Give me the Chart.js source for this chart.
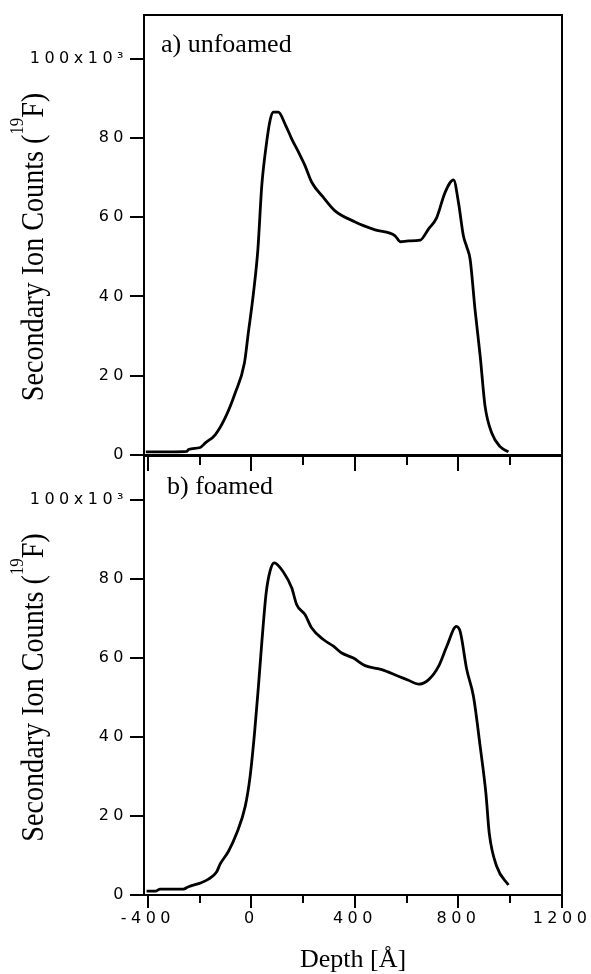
<!DOCTYPE html>
<html>
<head>
<meta charset="utf-8">
<script src="https://cdn.jsdelivr.net/npm/chart.js@4.4.1/dist/chart.umd.min.js"></script>
<style>
  html, body { margin: 0; padding: 0; background: #fff; }
  #wrap { position: relative; width: 591px; height: 974px; }
  .panel { position: absolute; left: 0; width: 591px; }
  #topBox { top: 0; height: 476px; }
  #botBox { top: 456px; height: 518px; }
</style>
</head>
<body>
<div id="wrap">
  <div class="panel" id="topBox"><canvas id="unfoamedChart"></canvas></div>
  <div class="panel" id="botBox"><canvas id="foamedChart"></canvas></div>
</div>
<script>
// 19F depth profiles, counts in units of 10^3, depth in Angstrom
var depthUnfoamed = [-408, -300, -250, -243, -198, -179, -140, -102, -63, -27, -12, 8, 25, 40, 57, 72, 85, 104,
  130, 156, 182, 207, 233, 278, 323, 401, 478, 555, 575, 607, 652, 684, 716, 748, 781, 800, 819, 832, 845,
  864, 884, 903, 929, 961, 993];
var countsUnfoamed = [0.8, 0.8, 0.9, 1.4, 1.9, 3.0, 5.1, 9.3, 15.6, 23.2, 30.8, 40.9, 51.9, 67.9, 78, 84.4, 86.5, 86.5,
  83.5, 79.7, 76.4, 73, 68.8, 65, 61.6, 58.8, 56.8, 55.3, 53.8, 54, 54.2, 57, 59.9, 66.2, 69.4, 63.7, 55.3, 52.5, 49.4,
  36.7, 24.9, 12.2, 5.5, 2.1, 0.8];

var depthFoamed = [-405, -370, -353, -263, -243, -198, -166, -134, -121, -89, -57, -24, -5, 12, 27, 40, 57, 72, 88,
  124, 156, 175, 207, 233, 278, 317, 349, 394, 439, 504, 568, 607, 645, 684, 723, 755, 792, 807, 832, 858,
  884, 906, 919, 948, 993];
var countsFoamed = [1.0, 1.0, 1.5, 1.5, 2.1, 3.0, 4.0, 5.9, 7.8, 11, 15.6, 22.4, 30, 40.9, 52.7, 63.7, 76.4, 81.9, 84,
  81.6, 77.6, 73.4, 70.9, 67.5, 64.6, 62.9, 61.2, 59.9, 58, 57, 55.3, 54.3, 53.3, 54.4, 57.8, 62.9, 67.9, 66.5, 57, 50.2,
  37.5, 25.7, 15.6, 7.2, 2.5];

var depthTicks = [-400, 0, 400, 800, 1200];
var depthMinorTicks = [-400, -200, 0, 200, 400, 600, 800, 1000, 1200];
var countTicks = [0, 20, 40, 60, 80, 100];
var depthMin = -415, depthMax = 1200, countMax = 111;

var tickFont = { family: 'DejaVu Sans', size: 16 };

// frame, panel label and axis titles (drawn without the tick letter spacing)
var panelDecor = {
  id: 'panelDecor',
  beforeDraw: function (chart) {
    chart.ctx.letterSpacing = '4.5px';
  },
  afterDraw: function (chart, args, o) {
    var ctx = chart.ctx, a = chart.chartArea;
    ctx.save();
    ctx.letterSpacing = '0px';
    ctx.strokeStyle = '#000';
    ctx.lineWidth = 2;
    ctx.beginPath();
    if (o.topLine) {
      ctx.moveTo(a.left - 1, a.top);
      ctx.lineTo(a.right + 1, a.top);
    }
    ctx.moveTo(a.right, a.top);
    ctx.lineTo(a.right, a.bottom);
    ctx.stroke();

    ctx.fillStyle = '#000';
    ctx.textBaseline = 'alphabetic';
    ctx.textAlign = 'left';
    ctx.font = '26px "Liberation Serif"';
    ctx.fillText(o.label, o.labelX, o.labelY);

    if (o.xTitle) {
      ctx.textAlign = 'center';
      ctx.fillText(o.xTitle, (a.left + a.right) / 2, o.xTitleY);
    }

    // y title with superscript isotope number
    var cy = (a.top + a.bottom) / 2 + 12;
    ctx.save();
    ctx.translate(43, cy);
    ctx.rotate(-Math.PI / 2);
    ctx.scale(0.88, 1);
    ctx.textAlign = 'left';
    var p1 = 'Secondary Ion Counts (', p2 = '19', p3 = 'F)';
    ctx.font = '32px "Liberation Serif"';
    var w1 = ctx.measureText(p1).width, w3 = ctx.measureText(p3).width;
    ctx.font = '19px "Liberation Serif"';
    var w2 = ctx.measureText(p2).width;
    var x0 = -(w1 + w2 + w3) / 2;
    ctx.font = '32px "Liberation Serif"';
    ctx.fillText(p1, x0, 0);
    ctx.font = '19px "Liberation Serif"';
    ctx.fillText(p2, x0 + w1, -20);
    ctx.font = '32px "Liberation Serif"';
    ctx.fillText(p3, x0 + w1 + w2, 0);
    ctx.restore();

    ctx.restore();
  }
};

function makePanel(canvasId, depth, counts, cfg) {
  var canvas = document.getElementById(canvasId);
  if (!canvas) return null;
  var points = depth.map(function (d, i) { return { x: d, y: counts[i] }; });
  return new Chart(canvas.getContext('2d'), {
    type: 'line',
    data: {
      datasets: [{
        data: points,
        borderColor: '#000',
        borderWidth: 2.8,
        pointRadius: 0,
        fill: false,
        cubicInterpolationMode: 'monotone',
        xAxisID: 'x',
        yAxisID: 'y'
      }]
    },
    options: {
      responsive: true,
      maintainAspectRatio: false,
      animation: false,
      events: [],
      layout: { padding: { top: cfg.padTop, right: 29, left: 0, bottom: 0 } },
      plugins: {
        legend: { display: false },
        tooltip: { enabled: false },
        panelDecor: cfg.decor
      },
      scales: {
        x: {
          type: 'linear',
          position: 'bottom',
          weight: 1,
          min: depthMin,
          max: depthMax,
          afterBuildTicks: function (s) { s.ticks = depthTicks.map(function (v) { return { value: v }; }); },
          afterFit: function (s) { s.height = cfg.xHeight; s.paddingLeft = 0; s.paddingRight = 0; },
          grid: { drawOnChartArea: false, color: '#000', lineWidth: 2, tickLength: cfg.majorLen },
          border: { display: true, color: '#000', width: cfg.xBorder },
          ticks: {
            display: cfg.xLabels,
            color: '#000',
            font: tickFont,
            padding: 1,
            maxRotation: 0,
            autoSkip: false,
            callback: function (v) { return String(v); }
          }
        },
        xMinor: {
          type: 'linear',
          axis: 'x',
          position: 'bottom',
          weight: 0,
          min: depthMin,
          max: depthMax,
          afterBuildTicks: function (s) { s.ticks = depthMinorTicks.map(function (v) { return { value: v }; }); },
          afterFit: function (s) { s.height = 0; s.paddingLeft = 0; s.paddingRight = 0; },
          grid: { drawOnChartArea: false, color: '#000', lineWidth: 2, tickLength: cfg.minorLen },
          border: { display: false },
          ticks: { display: false }
        },
        y: {
          type: 'linear',
          position: 'left',
          min: 0,
          max: countMax,
          afterBuildTicks: function (s) { s.ticks = countTicks.map(function (v) { return { value: v }; }); },
          afterFit: function (s) { s.width = 144; s.paddingTop = 0; s.paddingBottom = 0; },
          grid: { drawOnChartArea: false, color: '#000', lineWidth: 2, tickLength: 14 },
          border: { display: true, color: '#000', width: 2 },
          ticks: {
            color: '#000',
            font: tickFont,
            padding: 2,
            callback: function (v) { return v === 100 ? '100x10\u00B3' : String(v); }
          }
        }
      }
    },
    plugins: [panelDecor]
  });
}

document.addEventListener('DOMContentLoaded', function () {
  makePanel('unfoamedChart', depthUnfoamed, countsUnfoamed, {
    padTop: 15, xHeight: 21, majorLen: 16, minorLen: 10, xBorder: 3, xLabels: false,
    decor: { topLine: true, label: 'a) unfoamed', labelX: 161, labelY: 52 }
  });
  makePanel('foamedChart', depthFoamed, countsFoamed, {
    padTop: 0, xHeight: 79, majorLen: 13, minorLen: 8, xBorder: 2, xLabels: true,
    decor: { topLine: false, label: 'b) foamed', labelX: 167, labelY: 38, xTitle: 'Depth [\u00C5]', xTitleY: 511 }
  });
});
</script>
</body>
</html>
